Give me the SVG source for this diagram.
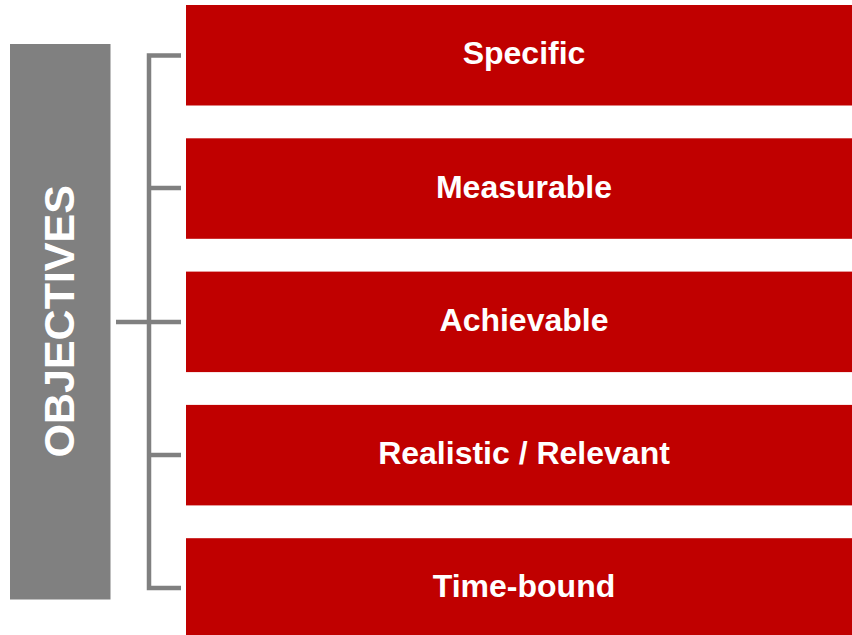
<svg xmlns="http://www.w3.org/2000/svg" width="852" height="635" viewBox="0 0 852 635">
<style>
.box{fill:#C00000}
.lbl{font-family:"Liberation Sans",Arial,sans-serif;font-weight:bold;font-size:32px;fill:#fff;text-anchor:middle}
.br{fill:none;stroke:#808080;stroke-width:4.5}
</style>
<rect width="852" height="635" fill="#fff"/>
<g id="objectives">
<rect x="10" y="44" width="100.5" height="555.5" fill="#808080"/>
<text transform="translate(73.8,321.3) rotate(-90)" text-anchor="middle" font-family="Liberation Sans,Arial,sans-serif" font-weight="bold" font-size="43" fill="#fff">OBJECTIVES</text>
</g>
<g id="connectors">
<path class="br" d="M181 55.5 H149 V588 H181"/>
<path class="br" d="M149 188 H181 M149 455 H181 M116 322 H181"/>
</g>
<g id="specific"><rect class="box" x="186" y="5" width="666" height="100.5"/><text class="lbl" x="524" y="64.2">Specific</text></g>
<g id="measurable"><rect class="box" x="186" y="138.3" width="666" height="100.5"/><text class="lbl" x="524" y="197.5">Measurable</text></g>
<g id="achievable"><rect class="box" x="186" y="271.6" width="666" height="100.5"/><text class="lbl" x="524" y="330.8">Achievable</text></g>
<g id="realistic"><rect class="box" x="186" y="404.9" width="666" height="100.5"/><text class="lbl" x="524" y="464.1">Realistic / Relevant</text></g>
<g id="timebound"><rect class="box" x="186" y="538.2" width="666" height="100.5"/><text class="lbl" x="524" y="597.4">Time-bound</text></g>
</svg>
